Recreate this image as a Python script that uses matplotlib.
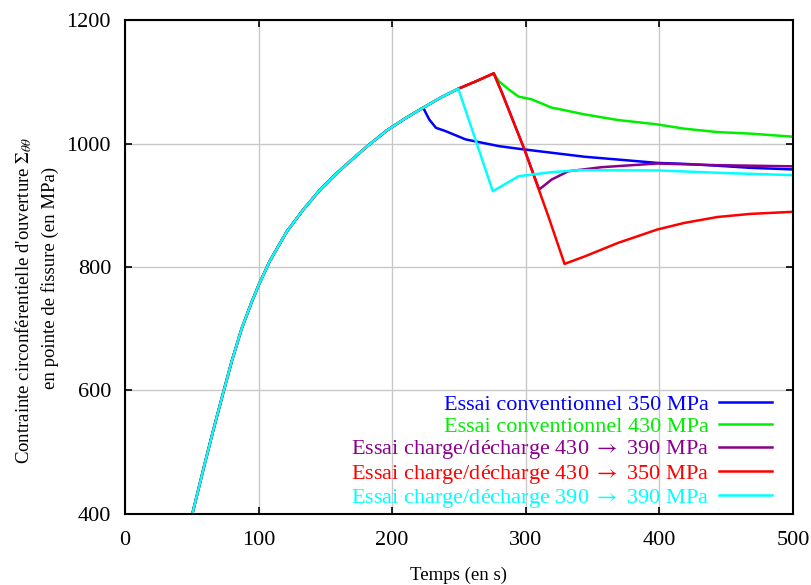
import matplotlib.pyplot as plt

plt.rcParams['font.family'] = ['Liberation Serif', 'DejaVu Serif']
plt.rcParams['mathtext.fontset'] = 'stix'

# common loading curve (all tests)
t_load = [50.4, 60, 66, 73.6, 80, 87.3, 94.8, 100.3, 108.5, 121, 133.5, 146, 158.5,
          171, 181, 195.9, 210, 223.2, 236, 249.5, 263, 276]
s_load = [400, 484, 535, 597, 648, 700, 743, 772, 810, 857, 893, 925, 952,
          976, 995, 1021, 1041, 1058, 1074, 1088.7, 1101, 1113.6]

# branches after loading
t_blue = [227.7, 232.7, 240, 255, 280, 294.6, 319.4, 344.3, 369, 398.3, 418.7, 443.5, 468, 500]
s_blue = [1039, 1025.5, 1020, 1006.6, 995.7, 991.5, 985, 978.5, 974, 968.6, 967, 964, 960.6, 958]

t_green = [279.8, 287.2, 294.6, 304.5, 319.4, 324.4, 344.3, 369, 398.3, 418.7, 443.5, 468.2, 500]
s_green = [1101, 1087.6, 1076, 1071.4, 1058, 1056, 1047, 1038, 1031, 1024, 1018.5, 1016, 1011]

t_unload = [282.2, 299, 310]          # shared by purple and red
s_unload = [1082, 990.3, 925.5]

t_purple = [319.4, 331.8, 356.6, 398.3, 443.5, 500]
s_purple = [941.7, 955, 961.6, 967.6, 964.9, 963]

t_red = [316.9, 329, 344.3, 369, 398.3, 418.7, 443.5, 468.2, 500]
s_red = [882, 805, 817.3, 839, 860.6, 871.4, 881, 886, 889.4]

t_cyan = [275.3, 294.6, 319, 340, 400, 443.5, 500]
s_cyan = [922.7, 947, 953.5, 956.8, 956.3, 952.6, 948.7]

labels = ['Essai conventionnel 350 MPa',
          'Essai conventionnel 430 MPa',
          'Essai charge/décharge 430 $\\rightarrow$ 390 MPa',
          'Essai charge/décharge 430 $\\rightarrow$ 350 MPa',
          'Essai charge/décharge 390 $\\rightarrow$ 390 MPa']
colors = ['#0000ff', '#00ee00', '#8b008b', '#ff0000', '#00ffff']

def upto(t_end):
    # part of the loading curve before a branch
    idx = [i for i, t in enumerate(t_load) if t <= t_end]
    return [t_load[i] for i in idx], [s_load[i] for i in idx]

series = []
tx, sx = upto(223.2)
series.append((tx + t_blue, sx + s_blue))
tx, sx = upto(276)
series.append((tx + t_green, sx + s_green))
series.append((tx + t_unload + t_purple, sx + s_unload + s_purple))
series.append((tx + t_unload[:2] + t_red, sx + s_unload[:2] + s_red))
tx, sx = upto(249.5)
series.append((tx + t_cyan, sx + s_cyan))

fig = plt.figure(figsize=(8.11, 5.85), dpi=100)
ax = fig.add_axes([0.1541, 0.1214, 0.8237, 0.8444])

for (x, y), lab, c in zip(series, labels, colors):
    ax.plot(x, y, color=c, lw=1.8, label=lab)

ax.set_xlim(0, 500)
ax.set_ylim(400, 1200)
ax.set_xticks([0, 100, 200, 300, 400, 500])
ax.set_yticks([400, 600, 800, 1000, 1200])
ax.grid(True, color='#c8c8c8', lw=1)
ax.set_axisbelow(True)
ax.tick_params(direction='in', top=True, right=True, labelsize=16, length=5, width=1.2)
ax.tick_params(axis='x', pad=12)
ax.tick_params(axis='y', pad=10)
for sp in ax.spines.values():
    sp.set_linewidth(1.5)

ax.set_xlabel('Temps (en s)', fontsize=13.5, labelpad=12)
# y label, two lines placed separately
fig.text(24 / 811, 1 - 300 / 585,
         "Contrainte circonférentielle d'ouverture $\\Sigma_{\\theta\\theta}$",
         rotation=90, ha='center', va='center', fontsize=13.5)
fig.text(50 / 811, 1 - 278 / 585, "en pointe de fissure (en MPa)",
         rotation=90, ha='center', va='center', fontsize=13.5)

leg = ax.legend(loc='lower right', bbox_to_anchor=(0.9686, 0.008), frameon=False,
                markerfirst=False, fontsize=16, labelcolor='linecolor',
                handlelength=2.4, handletextpad=0.45, borderaxespad=0,
                borderpad=0, labelspacing=0.06)
for txt in leg.get_texts():
    txt.set_ha('right')
leg._legend_box.align = 'right'

plt.savefig('out.png', dpi=100)
